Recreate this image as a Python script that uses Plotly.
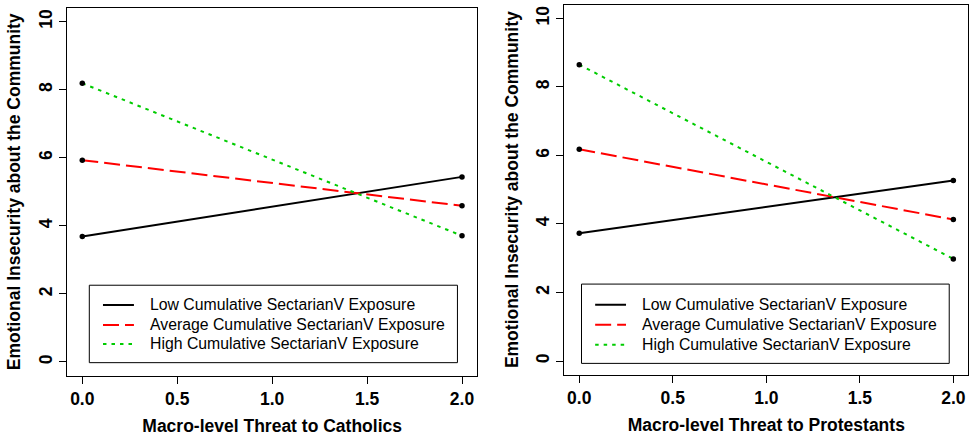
import plotly.graph_objects as go

x_vals = [0.0, 2.0]
series_names = ["Low Cumulative SectarianV Exposure",
                "Average Cumulative SectarianV Exposure",
                "High Cumulative SectarianV Exposure"]
cath_low = [3.69, 5.44]
cath_avg = [5.93, 4.59]
cath_high = [8.19, 3.71]
prot_low = [3.73, 5.27]
prot_avg = [6.18, 4.13]
prot_high = [8.65, 2.98]
x_ticks = [0.0, 0.5, 1.0, 1.5, 2.0]
x_ticklabels = ["0.0", "0.5", "1.0", "1.5", "2.0"]
y_ticks = [0, 2, 4, 6, 8, 10]
x_titles = ["Macro-level Threat to Catholics", "Macro-level Threat to Protestants"]
y_title = "Emotional Insecurity about the Community"

colors = ["black", "red", "#00cc00"]
dashes = ["solid", "16px,6px", "3.5px,5px"]

W, H = 969, 436
FONT = "Liberation Sans, Arial, sans-serif"

fig = go.Figure()

panels = [
    ([cath_low, cath_avg, cath_high], "x", "y"),
    ([prot_low, prot_avg, prot_high], "x2", "y2"),
]
for series, xa, ya in panels:
    for i, ys in enumerate(series):
        fig.add_trace(go.Scatter(
            x=x_vals, y=ys, mode="lines", name=series_names[i],
            line=dict(color=colors[i], width=2, dash=dashes[i]),
            xaxis=xa, yaxis=ya, showlegend=False))
    for i, ys in enumerate(series):
        fig.add_trace(go.Scatter(
            x=x_vals, y=ys, mode="markers",
            marker=dict(color="black", size=5.5),
            xaxis=xa, yaxis=ya, showlegend=False, hoverinfo="skip"))


def px2(xl, xr, yt, yb):
    return [xl / W, min(xr / W, 1.0)], [(H - yb) / H, (H - yt) / H]


d1x, d1y = px2(67.1, 477.2, 8.1, 375.6)
d2x, d2y = px2(564.3, 968.3, 4.7, 374.7)

axfont = dict(family=FONT, size=17.5, color="black", weight="bold")
common_x = dict(range=[-0.08, 2.08], tickvals=x_ticks, ticktext=x_ticklabels,
                ticks="outside", ticklen=7, tickwidth=1, tickcolor="black",
                showline=True, linecolor="black", linewidth=1, mirror=True,
                showgrid=False, zeroline=False, tickfont=axfont)
common_y = dict(range=[-0.4, 10.4], tickvals=y_ticks, tickangle=-90,
                ticks="outside", ticklen=7, tickwidth=1, tickcolor="black",
                showline=True, linecolor="black", linewidth=1, mirror=True,
                showgrid=False, zeroline=False, tickfont=axfont)

fig.update_layout(
    width=W, height=H, margin=dict(l=0, r=0, t=0, b=0),
    paper_bgcolor="white", plot_bgcolor="white",
    font=dict(family=FONT, color="black"),
    showlegend=False,
    xaxis=dict(domain=d1x, anchor="y", **common_x,
               title=dict(text=x_titles[0], font=axfont, standoff=12)),
    yaxis=dict(domain=d1y, anchor="x", **common_y,
               title=dict(text=y_title, font=axfont, standoff=10)),
    xaxis2=dict(domain=d2x, anchor="y2", **common_x,
                title=dict(text=x_titles[1], font=axfont, standoff=12)),
    yaxis2=dict(domain=d2y, anchor="x2", **common_y,
                title=dict(text=y_title, font=axfont, standoff=10)),
)

# manual legends (in data coordinates of each panel)
legends = [
    dict(xr="x", yr="y", box=(0.037, 1.976, -0.02, 2.256),
         samp=(0.109, 0.272), text_x=0.346, rows=[1.676, 1.088, 0.529]),
    dict(xr="x2", yr="y2", box=(0.012, 1.978, -0.07, 2.245),
         samp=(0.085, 0.25), text_x=0.326, rows=[1.642, 1.058, 0.475]),
]
for lg in legends:
    x0, x1, y0, y1 = lg["box"]
    fig.add_shape(type="rect", xref=lg["xr"], yref=lg["yr"], x0=x0, x1=x1,
                  y0=y0, y1=y1, line=dict(color="black", width=1),
                  fillcolor="white", layer="above")
    for i, yy in enumerate(lg["rows"]):
        fig.add_shape(type="line", xref=lg["xr"], yref=lg["yr"],
                      x0=lg["samp"][0], x1=lg["samp"][1], y0=yy, y1=yy,
                      line=dict(color=colors[i], width=2, dash=dashes[i]),
                      layer="above")
        fig.add_annotation(xref=lg["xr"], yref=lg["yr"], x=lg["text_x"], y=yy,
                           text=series_names[i], showarrow=False,
                           xanchor="left", yanchor="middle",
                           font=dict(family=FONT, size=15.8, color="black"))

fig.write_html("out.html", config={"displayModeBar": False},
               post_script="document.body.style.margin='0';"
                           "document.body.style.overflow='hidden';")
